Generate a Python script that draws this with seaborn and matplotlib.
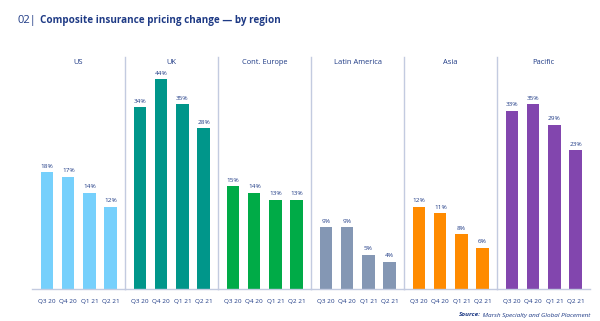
import numpy as np
import pandas as pd
import matplotlib
matplotlib.use("Agg")
import matplotlib.pyplot as plt
import seaborn as sns

regions = ["US", "UK", "Cont. Europe", "Latin America", "Asia", "Pacific"]
quarters = ["Q3 20", "Q4 20", "Q1 21", "Q2 21"]
us = [18, 17, 14, 12]
uk = [34, 44, 35, 28]
cont_europe = [15, 14, 13, 13]
latin_america = [9, 9, 5, 4]
asia = [12, 11, 8, 6]
pacific = [33, 35, 29, 23]
series = [us, uk, cont_europe, latin_america, asia, pacific]
colors = ["#76d0fc", "#00968a", "#00ab47", "#8497b4", "#ff8b00", "#8246ae"]

rows = []
for reg, vals in zip(regions, series):
    for q, v in zip(quarters, vals):
        rows.append({"region": reg, "quarter": q, "value": v})
df = pd.DataFrame(rows)

# The reference's value axis is compressed above ~18%
kv = np.array([0, 15, 18, 28, 35, 44, 100], float)
kh = np.array([0, 103, 117, 161, 185, 210, 330], float)
def fwd(v):
    return np.interp(v, kv, kh, left=-1e3, right=1e4)
def inv(h):
    return np.interp(h, kh, kv, left=-1e3, right=1e4)

sns.set_theme(style="white")
plt.rcParams["font.family"] = ["Open Sans", "DejaVu Sans"]

navy = "#1e3a85"
sep = "#c3cbe0"

fig = plt.figure(figsize=(6.0, 3.21), dpi=100)
L, R = 32 / 600, 590 / 600
B, T = 1 - 289 / 321, 1 - 57 / 321
w = (R - L) / 6
for i, reg in enumerate(regions):
    ax = fig.add_axes([L + i * w, B, w, T - B])
    sub = df[df.region == reg]
    sns.barplot(data=sub, x="quarter", y="value", color=colors[i], width=0.58,
                saturation=1, ax=ax, edgecolor="none")
    ax.set_yscale("function", functions=(fwd, inv))
    ax.set_ylim(0, 54.3)
    ax.set_xlim(-0.72, 3.68)
    for sp in ax.spines.values():
        sp.set_visible(False)
    ax.spines["bottom"].set_visible(True)
    ax.spines["bottom"].set_color(sep)
    ax.spines["bottom"].set_linewidth(1.0)
    if i > 0:
        ax.spines["left"].set_visible(True)
        ax.spines["left"].set_color(sep)
        ax.spines["left"].set_linewidth(1.0)
    ax.set_yticks([])
    ax.set_xlabel("")
    ax.set_ylabel("")
    ax.tick_params(axis="x", length=0, pad=7, labelsize=4.6, labelcolor=navy)
    for c in ax.containers:
        ax.bar_label(c, labels=[f"{int(v)}%" for v in c.datavalues],
                     padding=2.5, fontsize=4.6, color=navy)
    ax.text(0.5, 1 - 5 / 232, reg, transform=ax.transAxes, ha="center", va="center",
            fontsize=5.4, color=navy)
    ax.set_facecolor("none")

fig.text(17 / 600, 1 - 20 / 321, "02|", fontsize=8, color=navy, va="center", ha="left")
fig.text(40 / 600, 1 - 20 / 321, "Composite insurance pricing change \u2014 by region",
         fontsize=7.1, color=navy, fontweight="bold", va="center", ha="left")

src_rest = fig.text(590 / 600, 1 - 315 / 321, " Marsh Specialty and Global Placement",
                    fontsize=4.6, color=navy, style="italic", ha="right", va="center")
fig.canvas.draw()
bb = src_rest.get_window_extent()
fig.text(bb.x0 / fig.bbox.width, 1 - 315 / 321, "Source:", fontsize=4.6, color=navy,
         style="italic", fontweight="bold", ha="right", va="center")

fig.savefig("out.png", dpi=100)
